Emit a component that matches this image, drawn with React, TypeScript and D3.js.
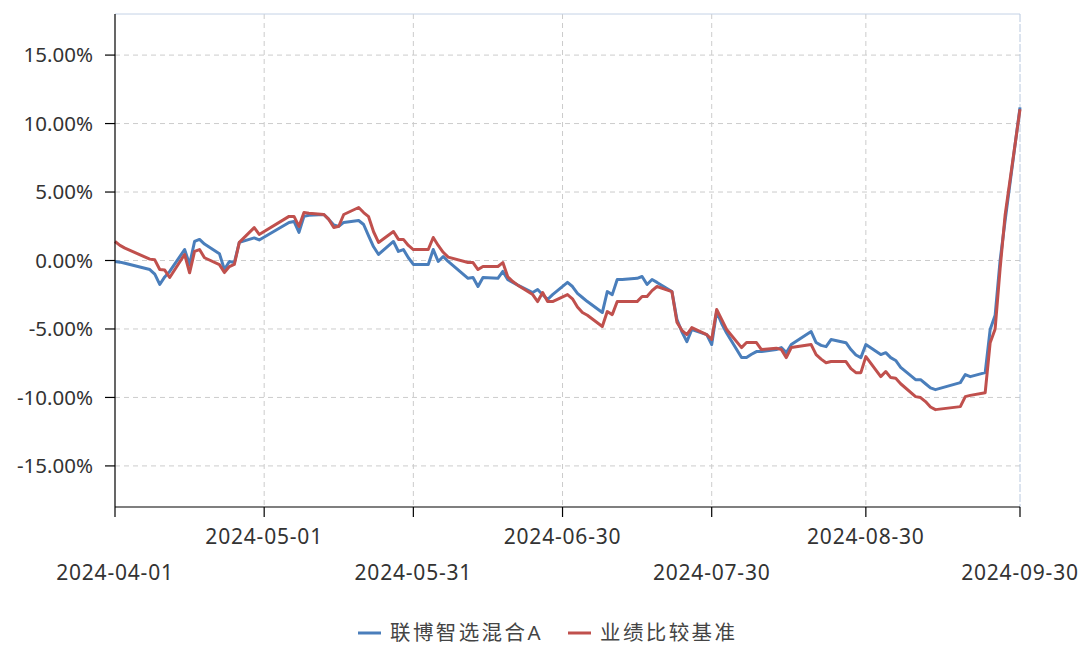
import React from "react";
import * as d3 from "d3";

const dates = [
  "2024-04-01", "2024-04-02", "2024-04-03", "2024-04-08", "2024-04-09", "2024-04-10", "2024-04-11", "2024-04-12",
  "2024-04-15", "2024-04-16", "2024-04-17", "2024-04-18", "2024-04-19", "2024-04-22", "2024-04-23", "2024-04-24",
  "2024-04-25", "2024-04-26", "2024-04-29", "2024-04-30", "2024-05-06", "2024-05-07", "2024-05-08", "2024-05-09",
  "2024-05-10", "2024-05-13", "2024-05-14", "2024-05-15", "2024-05-16", "2024-05-17", "2024-05-20", "2024-05-21",
  "2024-05-22", "2024-05-23", "2024-05-24", "2024-05-27", "2024-05-28", "2024-05-29", "2024-05-30", "2024-05-31",
  "2024-06-03", "2024-06-04", "2024-06-05", "2024-06-06", "2024-06-07", "2024-06-11", "2024-06-12", "2024-06-13",
  "2024-06-14", "2024-06-17", "2024-06-18", "2024-06-19", "2024-06-20", "2024-06-21", "2024-06-24", "2024-06-25",
  "2024-06-26", "2024-06-27", "2024-06-28", "2024-07-01", "2024-07-02", "2024-07-03", "2024-07-04", "2024-07-05",
  "2024-07-08", "2024-07-09", "2024-07-10", "2024-07-11", "2024-07-12", "2024-07-15", "2024-07-16", "2024-07-17",
  "2024-07-18", "2024-07-19", "2024-07-22", "2024-07-23", "2024-07-24", "2024-07-25", "2024-07-26", "2024-07-29",
  "2024-07-30", "2024-07-31", "2024-08-01", "2024-08-02", "2024-08-05", "2024-08-06", "2024-08-07", "2024-08-08",
  "2024-08-09", "2024-08-12", "2024-08-13", "2024-08-14", "2024-08-15", "2024-08-16", "2024-08-19", "2024-08-20",
  "2024-08-21", "2024-08-22", "2024-08-23", "2024-08-26", "2024-08-27", "2024-08-28", "2024-08-29", "2024-08-30",
  "2024-09-02", "2024-09-03", "2024-09-04", "2024-09-05", "2024-09-06", "2024-09-09", "2024-09-10", "2024-09-11",
  "2024-09-12", "2024-09-13", "2024-09-18", "2024-09-19", "2024-09-20", "2024-09-23", "2024-09-24", "2024-09-25",
  "2024-09-26", "2024-09-27", "2024-09-30",
];

// 联博智选混合A, cumulative return %
const fundValues = [
  -0.07, -0.12, -0.2, -0.66, -1.0, -1.75, -1.2, -0.8,
  0.8, -0.29, 1.39, 1.54, 1.2, 0.5, -0.66, -0.07,
  -0.15, 1.32, 1.65, 1.5, 2.78, 2.85, 2.05, 3.22,
  3.3, 3.36, 3.0, 2.6, 2.49, 2.78, 2.92, 2.63,
  1.8, 1.0, 0.44, 1.39, 0.66, 0.8, 0.2, -0.29,
  -0.29, 0.8, -0.07, 0.29, -0.07, -1.3, -1.24, -1.9,
  -1.24, -1.3, -0.8, -1.4, -1.6, -1.8, -2.34, -2.12,
  -2.5, -2.85, -2.49, -1.6, -1.9, -2.4, -2.7, -3.0,
  -3.8, -2.27, -2.49, -1.39, -1.39, -1.3, -1.17, -1.75,
  -1.39, -1.6, -2.27, -4.3, -5.2, -5.92, -5.04, -5.41,
  -6.14, -3.73, -4.6, -5.3, -7.09, -7.09, -6.85, -6.65,
  -6.65, -6.5, -6.36, -6.73, -6.14, -5.9, -5.19, -5.99,
  -6.2, -6.29, -5.77, -6.0, -6.5, -6.9, -7.09, -6.14,
  -6.87, -6.73, -7.09, -7.3, -7.8, -8.7, -8.7, -9.0,
  -9.3, -9.43, -8.92, -8.33, -8.48, -8.19, -5.04, -4.0,
  0.0, 2.9, 11.18,
];

// 业绩比较基准, cumulative return %
const benchValues = [
  1.39, 1.1, 0.9, 0.1, 0.05, -0.66, -0.7, -1.24,
  0.44, -0.9, 0.66, 0.8, 0.2, -0.3, -0.88, -0.44,
  -0.29, 1.32, 2.4, 1.9, 3.22, 3.22, 2.49, 3.5,
  3.45, 3.36, 3.0, 2.41, 2.5, 3.36, 3.87, 3.5,
  3.2, 2.1, 1.32, 2.12, 1.54, 1.54, 1.1, 0.8,
  0.8, 1.68, 1.1, 0.6, 0.25, -0.15, -0.15, -0.66,
  -0.44, -0.44, -0.15, -1.2, -1.54, -1.8, -2.49, -3.0,
  -2.34, -3.0, -3.0, -2.49, -2.8, -3.4, -3.8, -4.0,
  -4.82, -3.73, -3.95, -3.0, -3.0, -3.0, -2.63, -2.63,
  -2.2, -1.9, -2.27, -4.5, -5.1, -5.41, -4.9, -5.41,
  -5.77, -3.58, -4.3, -5.04, -6.36, -5.99, -5.99, -5.99,
  -6.5, -6.4, -6.5, -7.09, -6.36, -6.3, -6.14, -6.87,
  -7.2, -7.46, -7.38, -7.38, -7.9, -8.19, -8.19, -7.02,
  -8.48, -8.11, -8.55, -8.6, -9.0, -9.94, -10.01, -10.3,
  -10.7, -10.89, -10.67, -9.94, -9.85, -9.65, -6.0, -5.0,
  -0.6, 3.3, 11.04,
];

const xTickLabels = ["2024-04-01", "2024-05-01", "2024-05-31", "2024-06-30", "2024-07-30", "2024-08-30", "2024-09-30"];
const yTicks = [-15, -10, -5, 0, 5, 10, 15];
const seriesNames = ["联博智选混合A", "业绩比较基准"];
const seriesColors = ["#4a7ebb", "#c0504d"];

const W = 1086;
const H = 647;
const left = 115;
const right = 1020;
const top = 14;
const bottom = 507;
const font = "'Noto Sans', 'Noto Sans CJK SC', sans-serif";

const parse = d3.timeParse("%Y-%m-%d");

export default function App() {
  const x = d3
    .scaleTime()
    .domain([parse("2024-04-01")!, parse("2024-09-30")!])
    .range([left, right]);
  const y = d3.scaleLinear().domain([-18, 18]).range([bottom, top]);

  const line = d3
    .line<number>()
    .x((_, i) => x(parse(dates[i])!))
    .y(d => y(d));

  const series = [fundValues, benchValues];

  return (
    <svg
      width={W}
      height={H}
      style={{ position: "absolute", left: 0, top: 0, background: "#fff" }}
      fontFamily={font}
    >
      {/* horizontal grid */}
      {yTicks.map(t => (
        <line
          key={"gy" + t}
          x1={left}
          x2={right}
          y1={y(t)}
          y2={y(t)}
          stroke="#cccccc"
          strokeDasharray="5,4"
        />
      ))}
      {/* vertical grid */}
      {xTickLabels.slice(1, -1).map(d => (
        <line
          key={"gx" + d}
          x1={x(parse(d)!)}
          x2={x(parse(d)!)}
          y1={top}
          y2={bottom}
          stroke="#cccccc"
          strokeDasharray="5,4"
        />
      ))}
      <line x1={left} x2={right} y1={top} y2={top} stroke="#c4d2e6" />
      <line x1={right} x2={right} y1={top} y2={bottom} stroke="#b8c8df" strokeDasharray="8,2" />

      {/* series */}
      {series.map((s, i) => (
        <path
          key={"s" + i}
          d={line(s) || ""}
          fill="none"
          stroke={seriesColors[i]}
          strokeWidth={3}
          strokeLinejoin="round"
        />
      ))}

      {/* y axis */}
      <line x1={left} x2={left} y1={top} y2={bottom} stroke="#000" strokeWidth={1.2} />
      {yTicks.map(t => (
        <g key={"ty" + t}>
          <line x1={left - 10} x2={left} y1={y(t)} y2={y(t)} stroke="#000" strokeWidth={1.2} />
          <text x={left - 22} y={y(t)} dy="0.35em" textAnchor="end" fontSize={20.5} fill="#333">
            {t.toFixed(2) + "%"}
          </text>
        </g>
      ))}

      {/* x axis */}
      <line x1={left} x2={right} y1={bottom} y2={bottom} stroke="#000" strokeWidth={1.2} />
      {xTickLabels.map((d, i) => {
        const px = x(parse(d)!);
        return (
          <g key={"tx" + d}>
            <line x1={px} x2={px} y1={bottom} y2={bottom + 10} stroke="#000" strokeWidth={1.2} />
            <text
              x={px}
              y={i % 2 === 0 ? 573 : 537}
              dy="0.35em"
              textAnchor="middle"
              fontSize={21}
              letterSpacing={0.8}
              fill="#333"
            >
              {d}
            </text>
          </g>
        );
      })}

      {/* legend */}
      {seriesNames.map((n, i) => {
        const lx = i === 0 ? 358 : 568;
        return (
          <g key={"lg" + i}>
            <line x1={lx} x2={lx + 23} y1={633} y2={633} stroke={seriesColors[i]} strokeWidth={3} />
            <text x={lx + 32} y={633} dy="0.35em" fontSize={20.5} letterSpacing={2.4} fill="#444">
              {n}
            </text>
          </g>
        );
      })}
    </svg>
  );
}
